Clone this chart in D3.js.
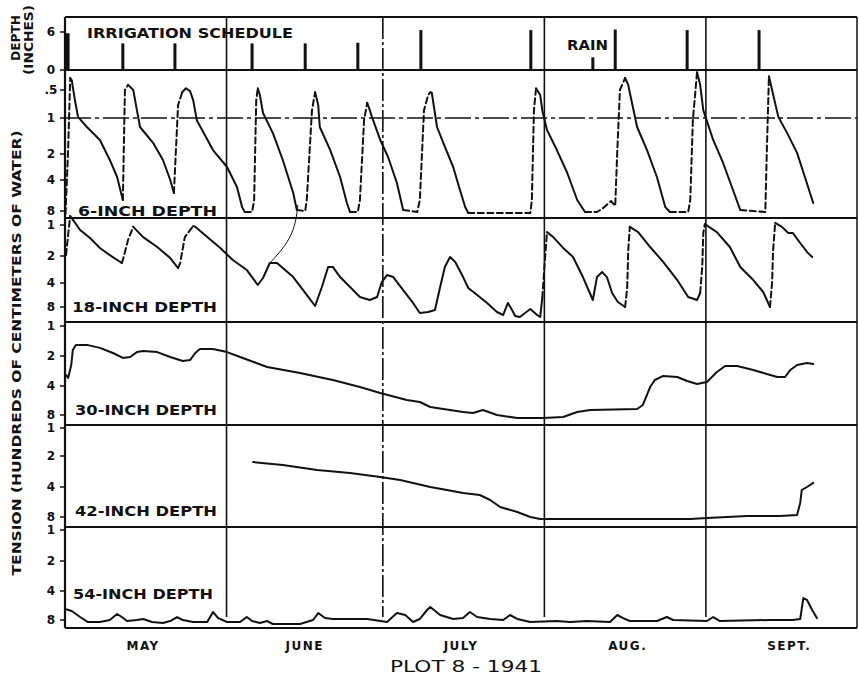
<!DOCTYPE html>
<html><head><meta charset="utf-8">
<script src="https://cdn.jsdelivr.net/npm/d3@7"></script>
<style>body{margin:0;background:#fff}svg{display:block}</style>
</head><body><svg id="c" width="859" height="676"></svg>
<script>
// ---------- DATA (days after May 1, 1941 ; tension in hundreds of cm of water) ----------
const monthNames = ["MAY","JUNE","JULY","AUG.","SEPT."];
const monthLabelDays = [15, 46, 76, 108, 139];
const monthStartDays = [31, 61, 92, 123];
const monthLineDashed = [false, true, false, false];

const irrigationDays  = [0.4, 11.1, 21.1, 35.9, 46.1, 56.2, 68.3, 89.4, 105.6, 119.4, 133.2];
const irrigationDepth = [5.8, 4.2, 4.2, 4.2, 4.2, 4.3, 6.3, 6.3, 6.4, 6.3, 6.3];
const rainDays  = [101.3];
const rainDepth = [2.0];
const irrigationTicks = [0, 6];

// [day, tension, dashedSegmentFlag]
const tension6 = [
[0.1,8.4],[0.6,1.89,1],[1.0,0.29,1],
[1.3,0.33,0],[1.9,0.68,0],[2.5,0.98,0],[4.2,1.25,0],[6.7,1.61,0],[8.6,2.46,0],[10.0,3.77,0],[11.1,6.58,0],
[11.5,0.5,1],[12.1,0.41,1],
[13.1,0.5,0],[13.8,0.86,0],[14.4,1.25,0],[16.9,1.69,0],[18.8,2.46,0],[20.2,4.0,0],[20.9,5.68,0],
[21.7,0.77,1],[22.5,0.54,1],
[23.2,0.47,0],[24.0,0.52,0],[24.6,0.68,0],[25.3,1.06,0],[28.4,1.89,0],[31.1,3.0,0],[33.0,4.9,0],[34.0,7.5,0],[34.5,8.13,0],
[35.9,8.13,1],[36.3,6.58,1],[36.7,0.68,1],[37.0,0.47,1],
[37.4,0.59,0],[38.0,0.91,0],[39.9,1.42,0],[41.8,2.46,0],[43.8,5.68,0],[44.5,7.87,0],
[46.1,8.0,1],[46.4,6.58,1],[47.4,0.86,1],[48.0,0.54,1],
[48.6,0.77,0],[48.9,1.25,0],[50.9,1.89,0],[52.8,3.77,0],[54.1,6.97,0],[54.7,8.13,0],
[56.2,8.13,1],[56.6,6.58,1],[57.4,1.06,1],[58.0,0.73,1],
[58.5,0.86,0],[58.9,0.98,0],[60.5,1.61,0],[62.0,2.23,0],[63.7,4.39,0],[64.9,7.87,0],
[67.6,8.13,1],[68.1,6.58,1],[68.9,0.86,1],[69.7,0.59,1],[70.1,0.54,1],
[70.4,0.55,0],[71.4,1.25,0],[72.6,1.69,0],[74.5,3.0,0],[75.8,5.29,0],[76.8,7.48,0],[77.4,8.27,0],
[89.3,8.27,1],[89.6,6.58,1],[90.0,0.86,1],[90.4,0.47,1],
[91.2,0.59,0],[91.6,0.86,0],[92.5,1.33,0],[94.4,1.89,0],[96.4,3.46,0],[98.3,6.58,0],[99.8,8.13,0],
[102.1,8.13,1],[103.3,7.61,1],[104.8,6.71,1],[105.6,7.35,1],[106.0,1.89,1],[106.5,0.5,1],[107.5,0.29,1],
[108.1,0.41,0],[108.4,0.55,0],[109.8,1.25,0],[111.7,1.89,0],[113.6,3.77,0],[115.2,7.48,0],[116.1,8.13,0],
[119.6,8.13,1],[120.0,6.58,1],[120.5,1.06,1],[121.3,0.19,1],
[121.9,0.41,0],[122.5,0.86,0],[124.4,1.61,0],[126.3,2.69,0],[128.2,5.29,0],[129.6,7.87,0],
[134.4,8.13,1],[134.7,1.89,1],[135.1,0.26,1],
[135.7,0.5,0],[136.9,0.98,0],[138.6,1.42,0],[140.5,1.97,0],[142.0,3.77,0],[143.6,6.97,0]
];
const tension18 = [
[0.2,1.97],[0.6,1.32,1],[1.0,0.70,1],
[1.3,0.77,0],[2.9,1.16,0],[4.8,1.42,0],[6.7,1.74,0],[8.6,1.97,0],[10.9,2.52,0],
[11.1,2.3,1],[12.1,1.48,1],[13.1,1.06,1],
[15.0,1.39,0],[17.7,1.71,0],[20.2,2.15,0],[21.7,2.89,0],
[22.1,2.52,1],[23.0,1.39,1],[24.6,1.03,1],
[25.0,1.06,0],[27.3,1.39,0],[29.8,1.74,0],[32.2,2.3,0],[34.9,3.04,0],[37.0,4.33,0],[38.0,3.63,0],[39.3,2.52,0],[40.7,2.52,0],[41.8,2.89,0],[43.8,3.56,0],[45.7,5.17,0],[48.0,7.83,0],[49.3,4.67,0],[50.5,2.81,0],[51.4,2.81,0],[52.8,3.56,0],[54.7,4.67,0],[56.6,6.33,0],[58.5,6.83,0],[59.9,6.33,0],[60.8,3.93,0],[61.8,3.41,0],[63.0,3.56,0],[64.9,5.17,0],[66.8,7.33,0],[68.1,9.0,0],[69.7,8.83,0],[71.0,8.5,0],[72.0,4.67,0],[72.9,2.81,0],[73.9,2.07,0],[74.9,2.44,0],[76.4,3.56,0],[77.4,4.83,0],[79.1,6.0,0],[81.0,7.33,0],[82.9,8.83,0],[84.1,9.33,0],[85.0,7.33,0],[85.8,8.5,0],[86.4,9.5,0],[87.3,9.67,0],[89.3,8.33,0],[90.6,9.33,0],[91.2,9.67,0],[91.6,6.5,0],
[92.1,2.3,1],[92.5,1.23,1],
[93.7,1.39,0],[95.6,1.74,0],[97.5,2.07,0],[99.4,3.56,0],[101.3,6.83,0],[102.1,3.56,0],[103.1,3.19,0],[104.0,3.56,0],[105.0,5.67,0],[106.1,7.17,0],[107.5,8.0,0],
[107.9,4.67,1],[108.1,1.81,1],[108.4,1.06,1],
[110.0,1.23,0],[112.3,1.71,0],[114.8,2.44,0],[117.5,3.78,0],[119.6,6.33,0],[121.3,6.83,0],[121.9,5.67,0],
[122.3,2.81,1],[122.5,1.26,1],[122.8,0.97,1],
[125.1,1.23,0],[127.6,1.71,0],[129.6,2.81,0],[132.1,3.78,0],[134.0,5.5,0],[135.3,8.0,0],
[135.7,4.0,1],[135.9,1.81,1],[136.3,0.93,1],
[137.6,1.06,0],[138.8,1.26,0],[139.7,1.26,0],[141.1,1.58,0],[142.4,1.87,0],[143.4,2.07,0]
];
const leader18 = [[44.7,0.33],[44.3,0.9],[43.4,1.35],[41.8,1.77],[39.5,2.44]];
const tension30 = [
[0.2,3.27],[0.6,3.47],[1.2,2.6],[1.5,1.8],[2.1,1.63],[4.2,1.63],[6.7,1.73],[9.2,1.9],[11.1,2.13],[12.5,2.07],[13.8,1.87],[15.0,1.83],[17.7,1.87],[20.2,2.07],[22.6,2.33],[24.0,2.27],[25.0,1.9],[25.9,1.77],[28.4,1.77],[31.1,1.87],[33.6,2.07],[38.8,2.73],[45.1,3.13],[51.4,3.6],[56.6,4.14],[60.5,4.97],[65.6,5.93],[68.1,6.21],[70.1,6.9],[72.6,7.17],[76.4,7.59],[78.3,7.72],[80.2,7.31],[82.9,8.0],[86.8,8.42],[91.7,8.42],[95.6,8.28],[98.3,7.59],[100.8,7.31],[109.8,7.17],[110.9,6.62],[112.3,4.14],[113.2,3.6],[114.8,3.33],[117.5,3.4],[119.4,3.67],[121.3,3.87],[123.2,3.73],[125.1,3.07],[126.7,2.67],[129.0,2.67],[132.1,2.93],[134.7,3.2],[136.7,3.4],[138.2,3.4],[139.2,2.93],[140.5,2.6],[142.4,2.47],[143.6,2.53]
];
const tension42 = [
[36.1,2.39],[41.8,2.58],[48.4,2.9],[54.7,3.1],[60.5,3.35],[64.3,3.55],[70.1,4.0],[73.3,4.4],[76.4,4.8],[79.6,5.07],[81.6,5.73],[83.5,6.67],[86.8,7.33],[89.3,8.0],[91.2,8.27],[102.1,8.27],[120.0,8.27],[123.2,8.13],[130.9,7.87],[137.2,7.87],[140.5,7.73],[141.1,6.13],[141.4,4.4],[142.4,4.0],[143.6,3.73]
];
const tension54 = [
[0.0,6.48],[1.3,6.76],[2.9,7.59],[4.4,8.28],[6.7,8.28],[8.6,8.0],[10.0,7.17],[10.9,7.59],[11.9,8.14],[13.8,8.0],[15.0,7.86],[16.7,8.28],[18.8,8.42],[20.2,8.14],[21.5,7.59],[22.6,8.0],[24.6,8.28],[27.3,8.28],[28.4,6.9],[29.4,7.73],[31.1,8.28],[33.6,8.28],[34.9,7.59],[35.9,8.14],[37.4,8.42],[38.8,8.14],[39.9,8.55],[45.1,8.55],[47.6,8.0],[48.6,7.04],[49.9,7.73],[51.4,7.86],[58.0,7.86],[61.8,8.28],[63.7,7.04],[65.3,7.31],[66.8,8.28],[68.1,7.86],[69.5,6.62],[70.1,6.21],[72.0,7.31],[74.5,7.86],[76.4,7.73],[77.7,6.9],[79.1,7.59],[81.6,7.86],[84.1,8.0],[85.4,7.31],[86.8,7.86],[89.3,8.28],[94.4,8.14],[96.9,8.28],[100.2,8.14],[104.6,8.28],[106.0,7.31],[107.1,7.73],[108.4,8.14],[113.6,8.14],[115.5,7.59],[116.7,8.0],[123.2,8.14],[124.4,7.59],[125.7,8.14],[135.3,8.0],[139.7,8.0],[141.1,7.86],[141.7,4.97],[142.4,5.24],[143.4,6.62],[144.3,7.73]
];

// ---------- LAYOUT ----------
const FONT = "'DejaVu Sans', 'Liberation Sans', sans-serif";
const L = 65, R = 857, T = 17, B = 628;
const svg = d3.select("#c");
const day0 = Date.UTC(1941, 4, 1);
const toDate = d => new Date(day0 + d * 864e5);
const x = d3.scaleUtc().domain([toDate(0), toDate(152)]).range([L, R]);
const yIrr = d3.scaleLinear().domain([0, 6]).range([70, 32]);

const panels = [
  {label:"6-INCH DEPTH",  data:tension6,  dom:[0.15,0.5,1,2,4,8,8.8], rng:[70,90,118,154,180,211,217], ticks:[0.5,1,2,4,8], lx:78, lw:139, ly:211},
  {label:"18-INCH DEPTH", data:tension18, dom:[0.8,1,2,4,8,10.5],    rng:[219,225,256,283,307,322],    ticks:[1,2,4,8],     lx:72, lw:145, ly:307},
  {label:"30-INCH DEPTH", data:tension30, dom:[0.87,1,2,4,8,9.4],    rng:[322,326,356,386,415,425],    ticks:[1,2,4,8],     lx:75, lw:142, ly:410},
  {label:"42-INCH DEPTH", data:tension42, dom:[0.89,1,2,4,8,9.33],   rng:[425,428,456,487,517,527],    ticks:[1,2,4,8],     lx:75, lw:142, ly:511},
  {label:"54-INCH DEPTH", data:tension54, dom:[0.9,1,2,4,8,9.1],     rng:[527,530,561,591,620,628],    ticks:[1,2,4,8],     lx:73, lw:140, ly:594}
];
panels.forEach(p => p.y = d3.scaleLinear().domain(p.dom).range(p.rng));

const ink = "#111";

// panel separators and frame
const sepYs = [T, 70, 218, 322, 425, 527, B];
svg.selectAll(".sep").data(sepYs).join("line")
  .attr("x1", L).attr("x2", R).attr("y1", d => d).attr("y2", d => d)
  .attr("stroke", ink).attr("stroke-width", 2);
svg.append("line").attr("x1", L).attr("x2", L).attr("y1", T).attr("y2", B).attr("stroke", ink).attr("stroke-width", 2.2);
svg.append("line").attr("x1", R).attr("x2", R).attr("y1", T).attr("y2", B).attr("stroke", ink).attr("stroke-width", 1.5);

// month separators
svg.selectAll(".mline").data(monthStartDays).join("line")
  .attr("x1", d => x(toDate(d))).attr("x2", d => x(toDate(d)))
  .attr("y1", T).attr("y2", 617)
  .attr("stroke", ink).attr("stroke-width", 1.6)
  .attr("stroke-dasharray", (d, i) => monthLineDashed[i] ? "22,3,3,3" : null);

// dashed reference line at tension 1 in 6-inch panel
svg.append("line").attr("x1", L).attr("x2", R)
  .attr("y1", panels[0].y(1)).attr("y2", panels[0].y(1))
  .attr("stroke", ink).attr("stroke-width", 1.4).attr("stroke-dasharray", "26,4,4,4");

// irrigation bars
const irr = irrigationDays.map((d, i) => ({d, v: irrigationDepth[i]}));
svg.selectAll(".irr").data(irr).join("rect")
  .attr("x", d => x(toDate(d.d)) - 1.5).attr("width", (d, i) => i === 0 ? 4 : 3)
  .attr("y", d => yIrr(d.v)).attr("height", d => yIrr(0) - yIrr(d.v)).attr("fill", ink);
const rain = rainDays.map((d, i) => ({d, v: rainDepth[i]}));
svg.selectAll(".rain").data(rain).join("rect")
  .attr("x", d => x(toDate(d.d)) - 1.5).attr("width", 3)
  .attr("y", d => yIrr(d.v)).attr("height", d => yIrr(0) - yIrr(d.v)).attr("fill", ink);

// irrigation axis ticks
const tl = svg.append("g").attr("font-family", FONT).attr("font-weight", "bold").attr("font-size", 12).attr("fill", ink);
irrigationTicks.forEach(t => {
  tl.append("text").attr("x", 51).attr("y", yIrr(t)).attr("dy", "0.36em").attr("text-anchor", "middle").text(t);
  svg.append("line").attr("x1", 60).attr("x2", L).attr("y1", yIrr(t)).attr("y2", yIrr(t)).attr("stroke", ink).attr("stroke-width", 1.5);
});

// tension axes
const fmt = v => v === 0.5 ? ".5" : String(v);
panels.forEach(p => {
  p.ticks.forEach(t => {
    tl.append("text").attr("x", 51).attr("y", p.y(t)).attr("dy", "0.36em").attr("text-anchor", "middle").text(fmt(t));
    svg.append("line").attr("x1", 60).attr("x2", L).attr("y1", p.y(t)).attr("y2", p.y(t)).attr("stroke", ink).attr("stroke-width", 1.5);
  });
});

// curves
function runs(data) {
  const out = []; let cur = null;
  for (let i = 1; i < data.length; i++) {
    const f = data[i][2] ? 1 : 0;
    if (!cur || cur.f !== f) { cur = {f, pts: [data[i - 1]]}; out.push(cur); }
    cur.pts.push(data[i]);
  }
  return out;
}
panels.forEach(p => {
  const line = d3.line().x(d => x(toDate(d[0]))).y(d => p.y(d[1])).curve(d3.curveMonotoneX);
  const lineLin = d3.line().x(d => x(toDate(d[0]))).y(d => p.y(d[1]));
  runs(p.data).forEach(r => {
    svg.append("path").attr("d", (r.f ? lineLin : lineLin)(r.pts))
      .attr("fill", "none").attr("stroke", ink).attr("stroke-width", 2)
      .attr("stroke-linejoin", "round").attr("stroke-linecap", "round")
      .attr("stroke-dasharray", r.f ? "6,3.5" : null);
  });
});
// thin leader line between 6- and 18-inch panels
svg.append("path")
  .attr("d", d3.line().x(d => x(toDate(d[0]))).y(d => panels[1].y(d[1])).curve(d3.curveBasis)(leader18))
  .attr("fill", "none").attr("stroke", ink).attr("stroke-width", 1);

// panel labels
const lab = svg.append("g").attr("font-family", FONT).attr("font-weight", "bold").attr("font-size", 14).attr("fill", ink);
panels.forEach(p => {
  lab.append("text").attr("x", p.lx).attr("y", p.ly).attr("dy", "0.36em")
    .attr("textLength", p.lw).attr("lengthAdjust", "spacingAndGlyphs").text(p.label);
});
lab.append("text").attr("x", 87).attr("y", 32.5).attr("dy", "0.36em")
  .attr("textLength", 206).attr("lengthAdjust", "spacingAndGlyphs").text("IRRIGATION SCHEDULE");
lab.append("text").attr("x", 567).attr("y", 45).attr("dy", "0.36em")
  .attr("textLength", 41).attr("lengthAdjust", "spacingAndGlyphs").text("RAIN");

// month labels
lab.selectAll(".mon").data(monthNames).join("text")
  .attr("x", (d, i) => x(toDate(monthLabelDays[i]))).attr("y", 650)
  .attr("text-anchor", "middle").attr("font-size", 12).attr("letter-spacing", 1.5).text(d => d);

// title
svg.append("text").attr("x", 390).attr("y", 672).attr("font-family", FONT).attr("font-size", 16)
  .attr("fill", ink).attr("textLength", 152).attr("lengthAdjust", "spacingAndGlyphs").text("PLOT 8 - 1941");

// y axis titles
const yt = svg.append("g").attr("font-family", FONT).attr("font-weight", "bold").attr("font-size", 12).attr("fill", ink);
yt.append("text").attr("transform", "translate(21,353) rotate(-90)").attr("text-anchor", "middle")
  .attr("textLength", 445).attr("lengthAdjust", "spacingAndGlyphs").text("TENSION (HUNDREDS OF CENTIMETERS OF WATER)");
yt.append("text").attr("transform", "translate(20,38) rotate(-90)").attr("text-anchor", "middle")
  .attr("textLength", 46).attr("lengthAdjust", "spacingAndGlyphs").text("DEPTH");
yt.append("text").attr("transform", "translate(33,40) rotate(-90)").attr("text-anchor", "middle")
  .attr("textLength", 70).attr("lengthAdjust", "spacingAndGlyphs").text("(INCHES)");
</script></body></html>
